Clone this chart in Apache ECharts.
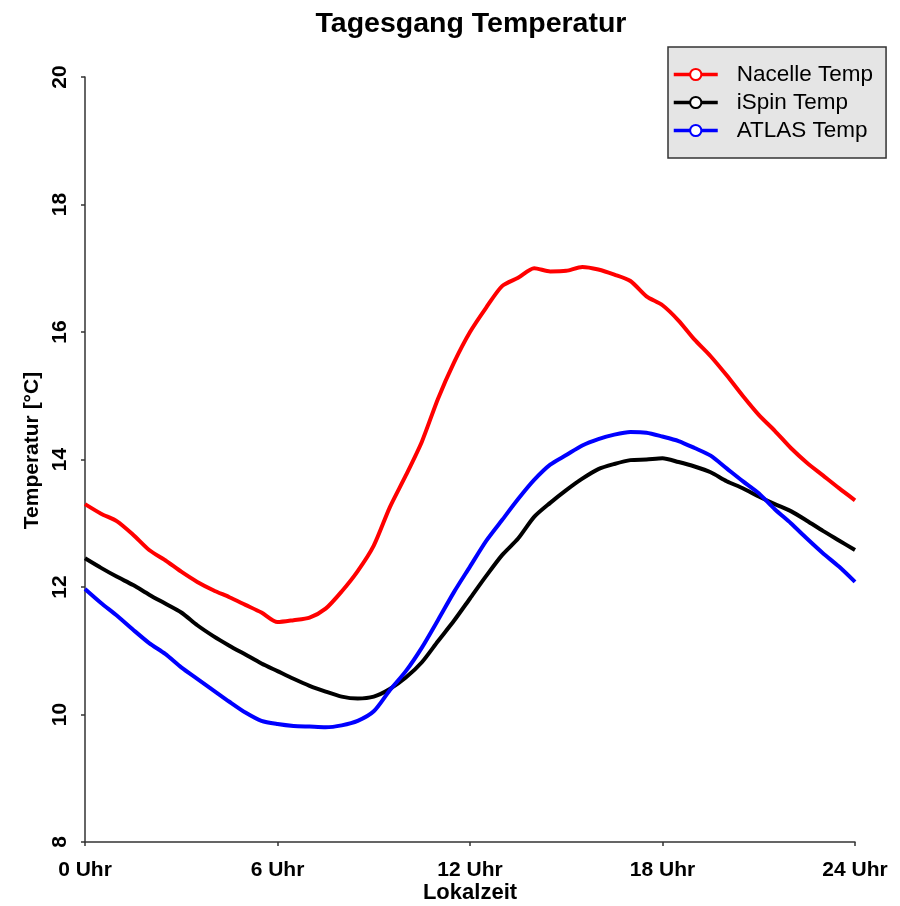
<!DOCTYPE html>
<html>
<head>
<meta charset="utf-8">
<script src="https://cdn.jsdelivr.net/npm/echarts@6/dist/echarts.min.js"></script>
<style>
  html, body { margin: 0; padding: 0; background: #fff; }
  #chart { width: 900px; height: 906px; }
</style>
</head>
<body>
<div id="chart"></div>
<script>
// Half-hourly sample times (hours of the local day)
const hours = [0,0.5,1,1.5,2,2.5,3,3.5,4,4.5,5,5.5,6,6.5,7,7.5,8,8.5,9,9.5,10,10.5,11,11.5,12,
  12.5,13,13.5,14,14.5,15,15.5,16,16.5,17,17.5,18,18.5,19,19.5,20,20.5,21,21.5,22,22.5,23,23.5,24];

// Mean daily temperature course [°C]
const nacelleTemp = [13.30,13.15,13.03,12.82,12.58,12.42,12.24,12.08,11.95,11.84,11.72,11.60,11.45,11.48,11.52,11.66,
  11.93,12.25,12.65,13.25,13.75,14.28,14.95,15.52,16.00,16.38,16.72,16.85,17.00,16.95,16.96,17.02,16.98,16.90,16.80,
  16.56,16.42,16.18,15.88,15.62,15.32,15.00,14.70,14.45,14.18,13.95,13.75,13.55,13.36];
const ispinTemp = [12.45,12.30,12.16,12.03,11.88,11.74,11.60,11.40,11.23,11.08,10.94,10.80,10.68,10.56,10.45,10.36,
  10.28,10.25,10.28,10.40,10.58,10.82,11.15,11.47,11.82,12.17,12.50,12.76,13.10,13.32,13.52,13.70,13.85,13.93,13.99,
  14.00,14.02,13.96,13.89,13.80,13.66,13.55,13.42,13.30,13.19,13.04,12.88,12.73,12.58];
const atlasTemp = [11.97,11.75,11.55,11.33,11.12,10.95,10.74,10.56,10.38,10.20,10.03,9.90,9.85,9.82,9.81,9.80,
  9.83,9.90,10.05,10.38,10.68,11.05,11.48,11.92,12.32,12.72,13.05,13.38,13.68,13.92,14.07,14.22,14.32,14.39,14.43,
  14.42,14.36,14.29,14.18,14.06,13.86,13.66,13.47,13.22,13.00,12.76,12.53,12.32,12.08];

const seriesNames = ['Nacelle Temp', 'iSpin Temp', 'ATLAS Temp'];
const seriesValues = [nacelleTemp, ispinTemp, atlasTemp];
const seriesColors = ['#ff0000', '#000000', '#0000ff'];

const fontFamily = '"Liberation Sans", Arial, Helvetica, sans-serif';

const chart = echarts.init(document.getElementById('chart'), null, { renderer: 'canvas' });

chart.setOption({
  animation: false,
  backgroundColor: '#ffffff',
  title: {
    text: 'Tagesgang Temperatur',
    left: 466,
    top: 5,
    textAlign: 'center',
    textStyle: { fontFamily, fontSize: 28.5, fontWeight: 'bold', color: '#000' }
  },
  legend: {
    data: seriesNames,
    orient: 'vertical',
    left: 668,
    top: 47,
    padding: [16, 13, 16, 4],
    itemWidth: 44,
    itemHeight: 14,
    itemGap: 5,
    backgroundColor: '#e5e5e5',
    borderColor: '#333',
    borderWidth: 1.5,
    borderRadius: 0,
    lineStyle: { width: 3.5 },
    textStyle: { fontFamily, fontSize: 22.5, color: '#000', padding: [0, 0, 0, 14] }
  },
  grid: { left: 85, right: 45, top: 77, bottom: 64, containLabel: false, outerBoundsMode: 'none' },
  xAxis: {
    type: 'value',
    min: 0,
    max: 24,
    interval: 6,
    name: 'Lokalzeit',
    nameLocation: 'middle',
    nameGap: 40,
    nameMoveOverlap: false,
    nameTextStyle: { fontFamily, fontSize: 22, fontWeight: 'bold', color: '#000' },
    axisLine: { show: true, lineStyle: { color: '#333', width: 1.5 } },
    axisTick: { show: true, length: 4, lineStyle: { color: '#333', width: 1.5 } },
    axisLabel: {
      formatter: '{value} Uhr',
      fontFamily, fontSize: 21, fontWeight: 'bold', color: '#000', margin: 18
    },
    splitLine: { show: false }
  },
  yAxis: {
    type: 'value',
    min: 8,
    max: 20,
    interval: 2,
    name: 'Temperatur [°C]',
    nameLocation: 'middle',
    nameGap: 42,
    nameMoveOverlap: false,
    nameTextStyle: { fontFamily, fontSize: 21, fontWeight: 'bold', color: '#000', padding: [0, 0, 0, 18] },
    axisLine: { show: true, lineStyle: { color: '#333', width: 1.5 } },
    axisTick: { show: true, length: 4, lineStyle: { color: '#333', width: 1.5 } },
    axisLabel: {
      rotate: 90,
      fontFamily, fontSize: 21, fontWeight: 'bold', color: '#000', margin: 14
    },
    splitLine: { show: false }
  },
  series: seriesNames.map((name, i) => ({
    name,
    type: 'line',
    data: hours.map((h, j) => [h, seriesValues[i][j]]),
    symbol: 'emptyCircle',
    symbolSize: 9,
    showSymbol: false,
    smooth: 0.25,
    lineStyle: { color: seriesColors[i], width: 4 },
    itemStyle: { color: seriesColors[i], borderWidth: 2.5 },
    emphasis: { disabled: true }
  }))
});
</script>
</body>
</html>
